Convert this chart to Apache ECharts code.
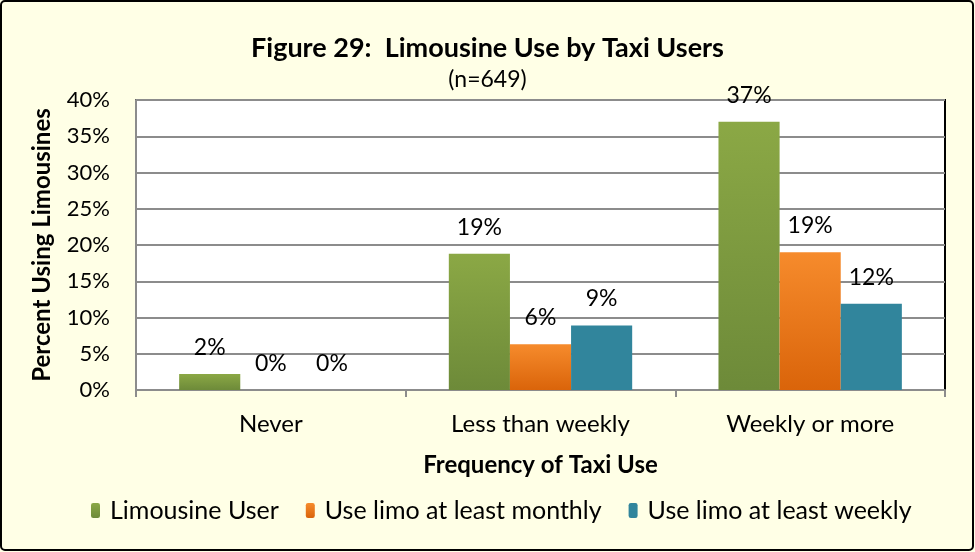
<!DOCTYPE html>
<html><head><meta charset="utf-8">
<script src="https://cdn.jsdelivr.net/npm/echarts@6/dist/echarts.min.js"></script>
<style>html,body{margin:0;padding:0;background:#FFFFE6;}#c{width:975px;height:552px;}</style>
</head><body><div id="c"></div>
<script>
const categories = ['Never', 'Less than weekly', 'Weekly or more'];
const seriesNames = ['Limousine User', 'Use limo at least monthly', 'Use limo at least weekly'];
const limousineUser = [2.2, 18.8, 37.0];
const limoMonthly = [0, 6.3, 19.0];
const limoWeekly = [0, 8.9, 11.9];
const yTicks = [0, 5, 10, 15, 20, 25, 30, 35, 40];

const FONT = 'Lato';
const chart = echarts.init(document.getElementById('c'), null, {renderer: 'canvas'});
function grad(a, b) {
  return {type: 'linear', x: 0, y: 0, x2: 0, y2: 1, colorStops: [{offset: 0, color: a}, {offset: 1, color: b}]};
}
const colors = [grad('#8BA845', '#6D8A39'), grad('#F68B2C', '#DA640A'), '#31859C'];
const dataSets = [limousineUser, limoMonthly, limoWeekly];
const label = {
  show: true, position: 'top', distance: 15, color: '#000', fontFamily: FONT, fontSize: 23,
  formatter: p => Math.round(p.value) + '%'
};
chart.setOption({
  backgroundColor: '#FFFFE6',
  textStyle: {fontFamily: FONT},
  title: {
    text: 'Figure 29:  Limousine Use by Taxi Users',
    subtext: '(n=649)',
    left: 'center', top: 30, itemGap: 6,
    textStyle: {fontFamily: FONT, fontWeight: 'bold', fontSize: 27, color: '#000'},
    subtextStyle: {fontFamily: FONT, fontSize: 23, color: '#000'}
  },
  legend: {
    data: seriesNames, bottom: 24, left: 86, itemWidth: 9, itemHeight: 15, itemGap: 27,
    textStyle: {fontFamily: FONT, fontSize: 25, color: '#000', padding: [0, 0, 0, 5]}
  },
  grid: {left: 136, right: 30, top: 100, bottom: 162, show: true, backgroundColor: '#fff', borderColor: '#000', borderWidth: 2},
  xAxis: {
    type: 'category', data: categories,
    name: 'Frequency of Taxi Use', nameLocation: 'middle', nameGap: 63,
    nameTextStyle: {fontFamily: FONT, fontWeight: 'bold', fontSize: 24, color: '#000'},
    axisLine: {lineStyle: {color: '#8c8c8c', width: 2}},
    axisTick: {show: true, length: 7, lineStyle: {color: '#8c8c8c', width: 2}},
    axisLabel: {color: '#000', fontSize: 24, margin: 22, fontFamily: FONT}
  },
  yAxis: {
    type: 'value', min: 0, max: 40, interval: 5,
    name: 'Percent Using Limousines', nameLocation: 'middle', nameGap: 82,
    nameTextStyle: {fontFamily: FONT, fontWeight: 'bold', fontSize: 24, color: '#000'},
    axisLine: {show: true, lineStyle: {color: '#8c8c8c', width: 2}},
    axisTick: {show: false},
    splitLine: {lineStyle: {color: '#8c8c8c', width: 2}},
    axisLabel: {color: '#000', fontSize: 22, margin: 26, fontFamily: FONT,
      formatter: v => (yTicks.includes(v) ? v + '%' : '')}
  },
  series: dataSets.map((d, i) => ({
    name: seriesNames[i], type: 'bar', data: d,
    barGap: '0%', barCategoryGap: '32%',
    itemStyle: {color: colors[i]},
    label: label
  })),
  graphic: [{
    type: 'rect', shape: {x: 1, y: 1, width: 972, height: 549, r: 4},
    style: {fill: null, stroke: '#000', lineWidth: 2}, z: 100, silent: true
  }]
});
</script></body></html>
